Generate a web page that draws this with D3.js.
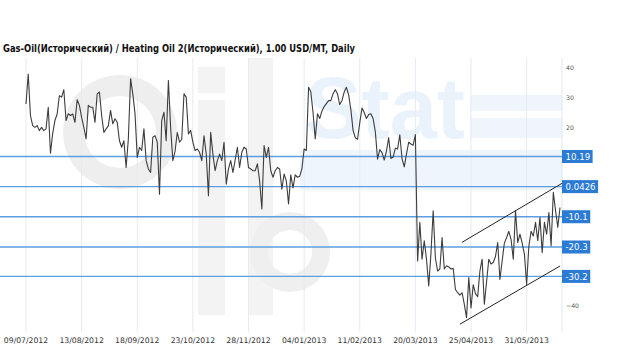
<!DOCTYPE html>
<html><head><meta charset="utf-8">
<script src="https://cdn.jsdelivr.net/npm/d3@7"></script>
<style>html,body{margin:0;padding:0;background:#fff;}svg{display:block}</style>
</head><body><svg id="c" width="628" height="353"></svg>
<script>
const titleText = "Gas-Oil(Исторический) / Heating Oil 2(Исторический), 1.00 USD/MT, Daily";
const tickLabels = ["09/07/2012","13/08/2012","18/09/2012","23/10/2012","28/11/2012","04/01/2013","11/02/2013","20/03/2013","25/04/2013","31/05/2013"];
const daysPerTick = 25;
const spread = [
27.9,38,24,20.6,20,20.6,18.9,20,18.9,19.5,
26.8,11.3,18,22.3,24.5,30.7,30.2,32.7,22.3,24.6,
24,24.5,21.7,29.3,27.4,23.4,20,16.1,27.4,26.8,
26.8,21.7,31.3,31.9,24,18.3,19.5,20.5,25.7,21.2,
22.9,21.7,15.5,13.3,15.5,6.5,16.1,36.4,31.3,24.6,
9.9,13.3,12.2,19.5,8.8,6,4.8,16.7,17.2,15,
-2.5,22.3,25.1,15.5,35.8,20,8.8,12,18.3,15,
16,31.3,30.2,17.8,19,15,12.2,12.7,11.6,8.8,
17.2,11,-3,18.3,11,5.4,8.8,11,8.8,15,
0.9,6,8.8,4.8,9,13.3,6.5,11.6,13.3,12.7,
6.5,6,5.4,5.4,7.7,2,-7.5,13.9,9.9,13.3,
5.4,3.2,5.4,6.5,6,-0.8,4.3,2,-5.8,4,
-0.4,4,3.2,3.5,6,12.7,12.2,33.5,32,25,
16.1,24.6,23,25.5,27,28,29,29,31.3,32.7,
31.3,27.7,29,31.9,33.5,31,26,19,16.5,16,
21.5,26.5,25,23,24.3,24.6,23,18.5,9.3,12.5,
11.5,9,12,16.5,9.5,10,13,12.7,17.5,9.5,
6.7,11,15,14.4,14,17.6,-25,-12,-24.4,-18.2,
-24.4,-33.4,-22.5,-8.1,-24,-28.4,-27.7,-17.1,-27.7,-26.6,
-27,-27.7,-27.5,-34.6,-35.7,-36.5,-35.7,-39.6,-44.1,-30.6,
-40.8,-33,-36,-37,-28.4,-24.4,-39.6,-32,-24.4,-26,
-25.5,-23.5,-18.8,-31.2,-25,-19,-17.1,-15,-17.7,-24.4,
-8.1,-18.8,-16,-19,-22.7,-32.9,-20,-15,-16.6,-12,
-18.2,-10.4,-22.2,-12,-16,-8.7,-19.9,-1.9,-8,-13.7,
-7
];
const levelValues = [10.19, 0.0426, -10.1, -20.3, -30.2];
const levelLabels = ["10.19","0.0426","-10.1","-20.3","-30.2"];
const axisTickValues = [40, 30, 20, -40];
const trendUpper = [[196, -18.7], [241, 1.2]];
const trendLower = [[195, -46.3], [240, -26.7]];

const svg = d3.select("#c");
const x = d3.scaleLinear().domain([0, 240]).range([26, 560]);
const y = d3.scaleLinear().domain([-40, 40]).range([305.5, 68]);
const axisX = 562;

// watermark
const wm = svg.append("g");
wm.append("path")
  .attr("d", d3.arc()({innerRadius: 36, outerRadius: 57, startAngle: 0, endAngle: 2*Math.PI}))
  .attr("transform", "translate(120,132)").attr("fill", "#eeeeee");
wm.append("rect").attr("x",198).attr("y",67).attr("width",27).attr("height",26).attr("fill","#f3f3f3");
wm.append("rect").attr("x",198).attr("y",100).attr("width",27).attr("height",215).attr("fill","#f3f3f3");
wm.append("rect").attr("x",248).attr("y",58).attr("width",25).attr("height",257).attr("fill","#f3f3f3");
wm.append("path")
  .attr("d", d3.arc()({innerRadius: 22, outerRadius: 40, startAngle: 0, endAngle: 2*Math.PI}))
  .attr("transform", "translate(290,252)").attr("fill", "#efefef");
wm.append("rect").attr("x",300).attr("y",150).attr("width",262).attr("height",40).attr("fill","#eff5fc");
wm.append("rect").attr("x",470).attr("y",95).attr("width",92).attr("height",16).attr("fill","#f0f5fc");
wm.append("rect").attr("x",470).attr("y",118).attr("width",92).attr("height",20).attr("fill","#f0f5fc");
wm.append("text").attr("x",305).attr("y",138).text("Stat")
  .attr("font-family","Liberation Sans, Arial, sans-serif").attr("font-weight","bold")
  .attr("font-size",88).attr("textLength",160).attr("lengthAdjust","spacingAndGlyphs")
  .attr("fill","#eaf2fb");

// vertical grid
svg.append("g").selectAll("line").data(tickLabels).join("line")
  .attr("x1",(d,i)=>x(i*daysPerTick)).attr("x2",(d,i)=>x(i*daysPerTick))
  .attr("y1",58).attr("y2",332).attr("stroke","#e3ebf5").attr("stroke-width",1);
svg.append("line").attr("x1",axisX).attr("x2",axisX).attr("y1",58).attr("y2",332)
  .attr("stroke","#dde7f3").attr("stroke-width",1);

// level lines
svg.append("g").selectAll("line").data(levelValues).join("line")
  .attr("x1",0).attr("x2",axisX).attr("y1",d=>y(d)).attr("y2",d=>y(d))
  .attr("stroke","#5d9ee0").attr("stroke-width",1.3);

// series
svg.append("path").datum(spread)
  .attr("d", d3.line().x((d,i)=>x(i)).y(d=>y(d)))
  .attr("fill","none").attr("stroke","#3d3d3d").attr("stroke-width",1.1).attr("stroke-linejoin","round");

// trend channel
[trendUpper, trendLower].forEach(t => {
  svg.append("path").datum(t).attr("d", d3.line().x(d=>x(d[0])).y(d=>y(d[1])))
    .attr("stroke","#222").attr("stroke-width",1).attr("fill","none");
});

// right axis ticks
const ax = svg.append("g").attr("transform",`translate(${axisX},0)`)
  .call(d3.axisRight(y).tickValues(axisTickValues).tickSize(0).tickPadding(4));
ax.select(".domain").remove();
ax.selectAll("text").attr("font-family","DejaVu Sans, sans-serif").attr("font-size",6.2).attr("fill","#555");

// level label boxes
const lb = svg.append("g").selectAll("g").data(levelValues).join("g")
  .attr("transform", d=>`translate(${axisX},${y(d)})`);
lb.append("text").text((d,i)=>levelLabels[i])
  .attr("x",3.5).attr("y",3.1).attr("font-family","DejaVu Sans, sans-serif")
  .attr("font-size",8.6).attr("fill","#fff");
lb.each(function(){
  const g = d3.select(this); const t = g.select("text").node();
  const w = t.getComputedTextLength();
  g.insert("rect","text").attr("x",0).attr("y",-6.5).attr("width",w+6).attr("height",13).attr("fill","#2b7ad4");
});

// x labels
svg.append("g").selectAll("text").data(tickLabels).join("text")
  .attr("x",(d,i)=>x(i*daysPerTick)).attr("y",343).attr("text-anchor","middle")
  .attr("font-family","DejaVu Sans, sans-serif").attr("font-size",7.7).attr("fill","#333").text(d=>d);

// title
svg.append("text").attr("x",3).attr("y",52).text(titleText)
  .attr("font-family","DejaVu Sans, sans-serif").attr("font-weight","bold").attr("font-size",9.6)
  .attr("textLength",352).attr("lengthAdjust","spacingAndGlyphs").attr("fill","#111");
</script></body></html>
